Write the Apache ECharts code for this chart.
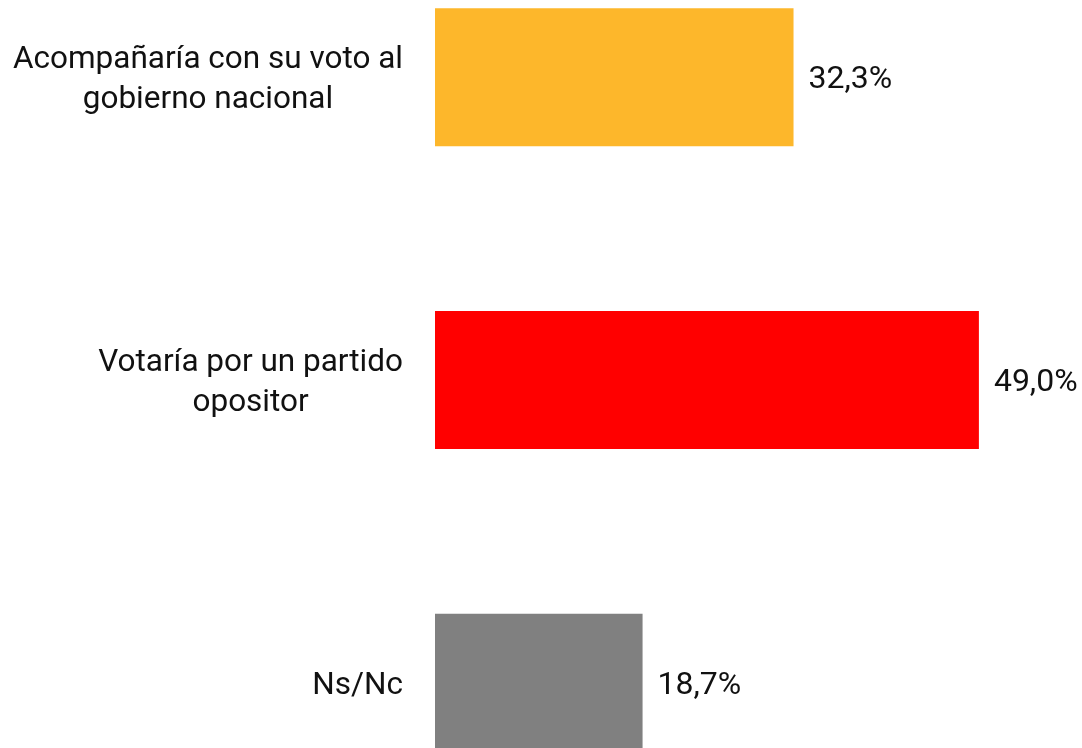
<!DOCTYPE html>
<html>
<head>
<meta charset="utf-8">
<script src="https://cdn.jsdelivr.net/npm/echarts@6/dist/echarts.min.js"></script>
<style>
  html, body { margin: 0; padding: 0; background: #fff; overflow: hidden; }
  /* the plot runs past the top and bottom of the window, as in the original */
  #chart { width: 1082px; height: 908px; margin-top: -74px; }
</style>
</head>
<body>
<div id="chart"></div>
<script>
// answer options, top to bottom
const categories = [
  'Acompañaría con su voto al\ngobierno nacional',
  'Votaría por un partido\nopositor',
  'Ns/Nc'
]
const values = [32.3, 49.0, 18.7]
const barColors = ['#FDB72B', '#FF0000', '#808080']

const FONT = 'Roboto'

var myChart = echarts.init(document.getElementById('chart'))

myChart.setOption({
  animation: false,
  backgroundColor: '#fff',
  grid: {
    left: 435,
    right: 92,
    top: 0,
    bottom: 0,
    containLabel: false
  },
  xAxis: {
    type: 'value',
    min: 0,
    max: 50,
    show: false
  },
  yAxis: {
    type: 'category',
    inverse: true,
    data: categories,
    axisLine: { show: false },
    axisTick: { show: false },
    axisLabel: {
      margin: 32,
      color: '#111',
      fontFamily: FONT,
      fontSize: 31.5,
      lineHeight: 40,
      padding: [6, 0, 0, 0],
      // center each line inside the label block
      formatter: function (val) {
        return val.split('\n').map(function (s) { return '{c|' + s + '}' }).join('\n')
      },
      rich: {
        c: {
          align: 'center',
          color: '#111',
          fontFamily: FONT,
          fontSize: 31.5,
          lineHeight: 40
        }
      }
    }
  },
  series: [{
    type: 'bar',
    barWidth: 138,
    data: values.map(function (v, i) {
      return { value: v, itemStyle: { color: barColors[i] } }
    }),
    label: {
      show: true,
      position: 'right',
      distance: 15,
      offset: [0, 3],
      color: '#111',
      fontFamily: FONT,
      fontSize: 32,
      formatter: function (p) {
        return p.value.toFixed(1).replace('.', ',') + '%'
      }
    }
  }]
})
</script>
</body>
</html>
